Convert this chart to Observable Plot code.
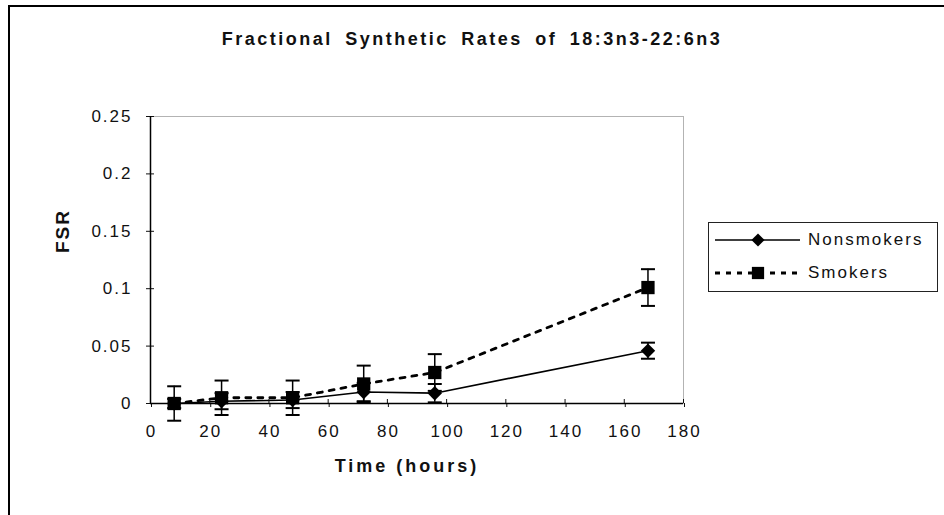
<!DOCTYPE html>
<html>
<head>
<meta charset="utf-8">
<script src="https://cdn.jsdelivr.net/npm/d3@7"></script>
<script src="https://cdn.jsdelivr.net/npm/@observablehq/plot@0.6"></script>
<style>
  html, body { margin: 0; padding: 0; background: #fff; }
  #wrap { position: relative; width: 944px; height: 515px; overflow: hidden; font-family: "Liberation Sans", Arial, sans-serif; }
  #border { position: absolute; left: 8px; top: 5px; width: 960px; height: 560px; border-left: 2px solid #000; border-top: 2px solid #000; }
  #title { position: absolute; top: 29px; left: 0; width: 944px; text-align: center; font-weight: bold; font-size: 18px; letter-spacing: 2.5px; word-spacing: 5px; color: #111; white-space: nowrap; }
  #legend { position: absolute; left: 708px; top: 222px; width: 230px; height: 70px; border: 1px solid #222; box-sizing: border-box; font-size: 17px; letter-spacing: 2px; color: #111; }
  .row { position: absolute; left: 5px; height: 22px; display: flex; align-items: center; }
  .row svg { display: block; }
  .row span { margin-left: 8px; }
</style>
</head>
<body>
<div id="wrap">
  <div id="chart"></div>
  <div id="border"></div>
  <div id="title">Fractional Synthetic Rates of 18:3n3-22:6n3</div>
  <div id="legend"></div>
</div>
<script>
// Data
const hours = [8, 24, 48, 72, 96, 168];
const nonsmokers = [0.000, 0.002, 0.003, 0.010, 0.009, 0.046];
const nonsmokersErr = [0.004, 0.007, 0.007, 0.008, 0.008, 0.007];
const smokers = [0.000, 0.005, 0.005, 0.017, 0.027, 0.101];
const smokersErr = [0.015, 0.015, 0.015, 0.016, 0.016, 0.016];
const seriesNames = ["Nonsmokers", "Smokers"];
const xTicks = [0, 20, 40, 60, 80, 100, 120, 140, 160, 180];
const yTicks = [0, 0.05, 0.1, 0.15, 0.2, 0.25];

const rows = [];
hours.forEach((h, i) => {
  rows.push({series: seriesNames[0], x: h, y: nonsmokers[i], lo: nonsmokers[i] - nonsmokersErr[i], hi: nonsmokers[i] + nonsmokersErr[i]});
  rows.push({series: seriesNames[1], x: h, y: smokers[i], lo: smokers[i] - smokersErr[i], hi: smokers[i] + smokersErr[i]});
});
const ns = rows.filter(d => d.series === seriesNames[0]);
const sm = rows.filter(d => d.series === seriesNames[1]);

const cap = { draw(ctx, size) { const r = Math.sqrt(size / Math.PI); ctx.moveTo(-r, 0); ctx.lineTo(r, 0); } };

const font = "Liberation Sans, Arial, sans-serif";

const chart = Plot.plot({
  width: 944,
  height: 515,
  marginLeft: 150,
  marginRight: 261,
  marginTop: 116,
  marginBottom: 112,
  style: { fontFamily: font, fontSize: "17px", color: "#111", background: "transparent" },
  x: { domain: [0, 180], ticks: xTicks },
  y: { domain: [0, 0.25], ticks: yTicks },
  marks: [
    Plot.frame({ stroke: "#666", strokeWidth: 1, strokeDasharray: "1,1" }),
    // error bars
    Plot.ruleX(sm, { x: "x", y1: "lo", y2: "hi", stroke: "#000", strokeWidth: 1.5 }),
    Plot.ruleX(ns, { x: "x", y1: "lo", y2: "hi", stroke: "#000", strokeWidth: 1.5 }),
    Plot.dot(sm, { x: "x", y: "hi", symbol: cap, r: 7, stroke: "#000", strokeWidth: 2 }),
    Plot.dot(sm, { x: "x", y: "lo", symbol: cap, r: 7, stroke: "#000", strokeWidth: 2 }),
    Plot.dot(ns, { x: "x", y: "hi", symbol: cap, r: 7, stroke: "#000", strokeWidth: 2 }),
    Plot.dot(ns, { x: "x", y: "lo", symbol: cap, r: 7, stroke: "#000", strokeWidth: 2 }),
    // lines
    Plot.line(ns, { x: "x", y: "y", stroke: "#000", strokeWidth: 1.6 }),
    Plot.line(sm, { x: "x", y: "y", stroke: "#000", strokeWidth: 2.8, strokeDasharray: "5,7" }),
    // markers
    Plot.dot(ns, { x: "x", y: "y", symbol: "diamond2", r: 6.5, fill: "#000", stroke: "none" }),
    Plot.dot(sm, { x: "x", y: "y", symbol: "square", r: 7.5, fill: "#000", stroke: "none" }),
    // axes
    Plot.axisY({ ticks: yTicks, tickSize: 4, tickPadding: 14, tickFormat: d => String(d), label: null, fontSize: 17 }),
    Plot.axisY({ ticks: yTicks, tickSize: -4, tickFormat: () => "", label: null }),
    Plot.axisX({ ticks: xTicks, tickSize: 4, tickPadding: 17, tickFormat: d => String(d), label: null, fontSize: 17, dx: 1 }),
    Plot.axisX({ ticks: xTicks, tickSize: -4, tickFormat: () => "", label: null }),
    Plot.ruleX([0], { stroke: "#000", strokeWidth: 1.5 }),
    Plot.ruleY([0], { stroke: "#000", strokeWidth: 1.5 }),
    // axis titles
    Plot.text(["Time (hours)"], { frameAnchor: "bottom", lineAnchor: "middle", dy: 63, dx: -10, fontWeight: "bold", fontSize: 18, text: d => d, fill: "#111" }),
    Plot.text(["FSR"], { frameAnchor: "left", lineAnchor: "middle", dx: -88, dy: -7, rotate: -90, fontWeight: "bold", fontSize: 19, text: d => d, fill: "#111" })
  ]
});
document.getElementById("chart").appendChild(chart);
chart.querySelectorAll("text").forEach(t => {
  const s = t.textContent;
  if (s === "Time (hours)") t.style.letterSpacing = "3px";
  else if (s === "FSR") t.style.letterSpacing = "2px";
  else if (/^[0-9.]+$/.test(s)) t.style.letterSpacing = "2px";
});

// legend
const legend = document.getElementById("legend");
function legendRow(name, top, dashed, symbol) {
  const row = document.createElement("div");
  row.className = "row";
  row.style.top = top + "px";
  const s = d3.create("svg").attr("width", 86).attr("height", 20);
  s.append("line").attr("x1", 1).attr("x2", 86).attr("y1", 10).attr("y2", 10)
    .attr("stroke", "#000").attr("stroke-width", dashed ? 2.8 : 1.6)
    .attr("stroke-dasharray", dashed ? "5,6" : null);
  s.append("path").attr("transform", "translate(44,10)")
    .attr("d", d3.symbol(symbol, dashed ? 150 : 110)()).attr("fill", "#000");
  row.appendChild(s.node());
  const sp = document.createElement("span");
  sp.textContent = name;
  row.appendChild(sp);
  legend.appendChild(row);
}
legendRow(seriesNames[0], 6, false, d3.symbolDiamond2);
legendRow(seriesNames[1], 39, true, d3.symbolSquare);
</script>
</body>
</html>
